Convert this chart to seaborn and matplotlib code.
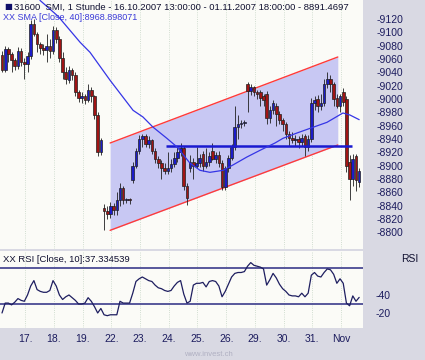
import numpy as np
import pandas as pd
import seaborn as sns
import matplotlib.pyplot as plt

# SMI hourly bars, 16.10.2007 13:00 - 01.11.2007 18:00
opens = [9066, 9044, 9075, 9068, 9058, 9050, 9072, 9056, 9052, 9064,
         9112, 9098, 9082, 9076, 9074, 9080, 9072, 9104, 9090, 9062,
         9040, 9028, 9044, 9036, 9010, 9002, 9004, 8999, 9014, 9004,
         8976, 8920, 8836, 8832, 8828, 8840, 8834, 8848, 8866, 8848,
         8849, 8878, 8900, 8922, 8940, 8944, 8932, 8938, 8922, 8910,
         8904, 8896, 8892, 8896, 8902, 8912, 8920, 8926, 8870, 8896,
         8906, 8900, 8904, 8918, 8900, 8906, 8922, 8910, 8916, 8904,
         8868, 8896, 8912, 8928, 8958, 8962, 8964, 9022, 9012, 9018,
         9010, 9010, 9004, 9008, 8972, 8984, 8990, 8978, 8968, 8962,
         8948, 8942, 8938, 8940, 8936, 8944, 8928, 8940, 8994, 9000,
         8990, 8994, 9022, 9030, 9022, 9002, 8990, 9010, 9000, 8906,
         8880, 8914, 8876]
highs = [9072, 9080, 9078, 9070, 9062, 9078, 9076, 9062, 9070, 9118,
         9120, 9100, 9086, 9082, 9098, 9090, 9110, 9108, 9094, 9070,
         9048, 9050, 9046, 9040, 9014, 9010, 9008, 9022, 9018, 9006,
         8980, 8942, 8842, 8840, 8846, 8844, 8860, 8874, 8870, 8852,
         8852, 8906, 8926, 8946, 8948, 8948, 8944, 8940, 8926, 8914,
         8908, 8904, 8920, 8910, 8920, 8928, 8934, 8930, 8874, 8916,
         8912, 8928, 8918, 8922, 8926, 8920, 8934, 8920, 8922, 8908,
         8900, 8916, 8932, 8990, 8976, 8968, 8968, 9026, 9022, 9020,
         9014, 9014, 9008, 9012, 8990, 8998, 8994, 8982, 8972, 8966,
         8952, 8950, 8946, 8944, 8948, 8948, 8946, 9002, 9004, 9006,
         9008, 9030, 9040, 9036, 9026, 9008, 9008, 9016, 9004, 8916,
         8918, 8918, 8896]
lows = [9040, 9040, 9055, 9040, 9044, 9045, 9050, 9030, 9040, 9060,
        9094, 9070, 9068, 9066, 9056, 9062, 9068, 9084, 9056, 9030,
        9022, 9024, 9028, 9004, 8996, 8994, 8992, 8996, 8996, 8970,
        8914, 8916, 8803, 8820, 8822, 8826, 8826, 8840, 8842, 8844,
        8842, 8874, 8896, 8918, 8928, 8928, 8926, 8918, 8904, 8896,
        8880, 8888, 8888, 8890, 8898, 8906, 8914, 8864, 8841, 8890,
        8880, 8896, 8898, 8892, 8896, 8900, 8908, 8904, 8898, 8863,
        8864, 8890, 8908, 8924, 8940, 8956, 8960, 8980, 9006, 9004,
        9000, 8990, 8990, 8962, 8964, 8978, 8960, 8962, 8952, 8940,
        8930, 8934, 8930, 8926, 8930, 8914, 8922, 8936, 8984, 8980,
        8984, 8990, 9016, 9010, 8990, 8986, 8980, 8990, 8890, 8848,
        8870, 8862, 8868]
closes = [9044, 9075, 9068, 9058, 9050, 9072, 9056, 9052, 9064, 9112,
          9098, 9082, 9076, 9074, 9080, 9072, 9104, 9090, 9062, 9040,
          9030, 9044, 9036, 9010, 9002, 9004, 8999, 9014, 9004, 8976,
          8920, 8938, 8832, 8828, 8840, 8834, 8848, 8866, 8848, 8849,
          8848, 8900, 8922, 8940, 8944, 8932, 8938, 8922, 8910, 8904,
          8896, 8892, 8896, 8902, 8912, 8920, 8926, 8870, 8852, 8906,
          8900, 8904, 8912, 8900, 8906, 8914, 8910, 8916, 8904, 8868,
          8896, 8912, 8928, 8958, 8962, 8964, 8966, 9012, 9018, 9010,
          9008, 9002, 8998, 8972, 8984, 8994, 8978, 8968, 8962, 8948,
          8942, 8938, 8940, 8936, 8942, 8928, 8940, 8994, 8998, 8990,
          8994, 9022, 9030, 9022, 9000, 8990, 9004, 8996, 8900, 8880,
          8910, 8878, 8891.47]

rsi10 = [20, 31, 31, 29, 32, 36, 34, 33, 40, 50,
         56, 46, 44, 43, 43, 45, 56, 50, 40, 35,
         38, 40, 37, 34, 30, 30, 31, 37, 33, 27,
         20, 25, 18, 17, 18, 18, 18, 33, 31, 31,
         31, 42, 55, 58, 60, 58, 56, 55, 51, 48,
         47, 45, 44, 45, 50, 54, 56, 41, 31, 33,
         51, 53, 53, 54, 49, 55, 56, 55, 50, 38,
         44, 52, 60, 64, 65, 65, 66, 72, 76, 73,
         72, 71, 69, 51, 57, 64, 59, 52, 47, 44,
         40, 39, 39, 38, 42, 38, 42, 62, 65, 61,
         60, 65, 69, 68, 63, 53, 58, 53, 31, 28,
         39, 33, 37.33]

# SMA(40) readings at bar positions
sma_bar = [11.9, 17.6, 24.5, 27.6, 33.9, 41.1, 44.2, 47.3, 51.7, 54.9, 57.4,
           58.9, 62.1, 65.2, 69.3, 72.4, 76.8, 80.9, 85.6, 88.1, 92.5, 96.6,
           101.9, 106.9, 109.1, 112]
sma40 = [9148, 9124, 9085, 9070, 9028, 8983, 8973, 8958, 8941, 8928, 8913,
         8904, 8893, 8890, 8893, 8901, 8913, 8923, 8934, 8941, 8949, 8956,
         8965, 8979, 8976, 8969]

session_labels = ["", "17.", "18.", "19.", "22.", "23.", "24.", "25.", "26.",
                  "29.", "30.", "31.", "Nov"]
bars_per_session = [5, 9, 9, 9, 9, 9, 9, 9, 9, 9, 9, 9, 9]

channel_bars = [33.9, 105.3]
channel_upper = [8934, 9063]
channel_lower = [8803, 8931]
level_bars = [51.4, 109.7]
level_price = 8930

price_ticks = list(range(8800, 9121, 20))
rsi_ticks = [20, 40]
rsi_bands = [30, 70]

bg = "#d9d9e3"
panel = "#fbfbf7"
navy = "#1c1c5e"

sns.set_style("white")
plt.rcParams["font.family"] = ["Liberation Sans", "DejaVu Sans"]

df = pd.DataFrame({"open": opens, "high": highs, "low": lows, "close": closes, "rsi": rsi10})
df["bar"] = np.arange(len(df))
up = df["close"] >= df["open"]

starts = np.concatenate([[0], np.cumsum(bars_per_session)[:-1]])
label_pos = starts[1:] + 2.3
minor_pos = np.concatenate([starts[1:] + 0.3, starts[1:] + 3.2])

fig = plt.figure(figsize=(4.25, 3.6), dpi=100, facecolor=bg)
ax = fig.add_axes([0, 1 - 249 / 360, 363 / 425, 249 / 360], facecolor=panel)
ax2 = fig.add_axes([0, 1 - 328 / 360, 363 / 425, 77 / 360], facecolor=panel)

# price panel
ax.fill_between(channel_bars, channel_lower, channel_upper, color="#c8c8f3", lw=0, zorder=1)
ax.plot(channel_bars, channel_upper, color="#ff3a3a", lw=1, zorder=2)
ax.plot(channel_bars, channel_lower, color="#ff3a3a", lw=1, zorder=2)

ax.vlines(df["bar"], df["low"], df["high"], color="#202020", lw=0.6, zorder=3)
body = (df["close"] - df["open"]).abs().clip(lower=1.5)
ax.bar(df["bar"], body, bottom=df[["open", "close"]].min(axis=1), width=0.82,
       color=np.where(up, "#1c1cc8", "#a01414"), edgecolor="#202020", linewidth=0.5, zorder=4)

ax.hlines(level_price, level_bars[0], level_bars[1], color="#1a1ad0", lw=1.8, zorder=5)
sns.lineplot(x=sma_bar, y=sma40, ax=ax, color="#3535e6", lw=0.9, zorder=6)

ax.set_xlim(-0.63, 113.2)
ax.set_ylim(8775, 9148.5)
ax.set_xticks(label_pos)
ax.xaxis.grid(True, ls=":", color="#c4d4c4", lw=0.6)
ax.tick_params(axis="x", length=0, labelbottom=False)
ax.yaxis.tick_right()
ax.set_yticks(price_ticks)
ax.set_yticklabels([f"-{v}" for v in price_ticks])
ax.tick_params(axis="y", length=0, pad=10, labelsize=7.5, labelcolor=navy)

# RSI panel
for lvl in rsi_bands:
    ax2.axhline(lvl, color="#3c3c8c", lw=1.2, zorder=2)
sns.lineplot(data=df, x="bar", y="rsi", ax=ax2, color="#1e1e60", lw=0.9, zorder=3)
ax2.set_xlim(-0.63, 113.2)
ax2.set_ylim(3.3, 88.9)
ax2.yaxis.tick_right()
ax2.set_yticks(rsi_ticks)
ax2.set_yticklabels([f"-{v}" for v in rsi_ticks])
ax2.tick_params(axis="y", length=0, pad=9, labelsize=7.5, labelcolor=navy)
ax2.set_xticks(label_pos)
ax2.set_xticklabels(session_labels[1:])
ax2.set_xticks(minor_pos, minor=True)
ax2.tick_params(axis="x", which="major", length=0, pad=4, labelsize=7.5, labelcolor=navy)
ax2.tick_params(axis="x", which="minor", length=4, width=0.8, color="#303030", direction="out")
ax2.xaxis.grid(True, ls=":", color="#c4d4c4", lw=0.6)
ax2.set_xlabel("")
ax2.set_ylabel("")
ax.set_xlabel("")
ax.set_ylabel("")

for a in (ax, ax2):
    for s in a.spines.values():
        s.set_visible(False)

fig.text(4 / 425, 1 - 7 / 360, "\u25a0", family="DejaVu Sans", fontsize=6, color="#10106a", va="center")
fig.text(14 / 425, 1 - 7 / 360,
         "31600  SMI, 1 Stunde - 16.10.2007 13:00:00 - 01.11.2007 18:00:00 - 8891.4697",
         fontsize=6.8, color="#101030", va="center")
fig.text(3 / 425, 1 - 17 / 360, "XX SMA [Close, 40]:8968.898071",
         fontsize=6.5, color="#3a3ad8", va="center")
fig.text(3 / 425, 1 - 259 / 360, "XX RSI [Close, 10]:37.334539",
         fontsize=6.8, color="#101030", va="center")
fig.text(410 / 425, 1 - 259 / 360, "RSI", fontsize=7.5, color="#101030", va="center", ha="center")
fig.text(208 / 425, 1 - 354 / 360, "www.invest.ch", fontsize=5.5, color="#b0b0c2",
         va="center", ha="center")

fig.savefig("out.png", dpi=100, facecolor=bg)
